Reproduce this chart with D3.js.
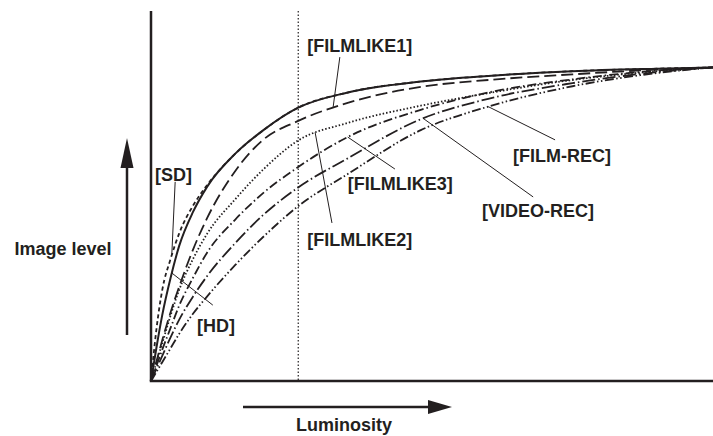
<!DOCTYPE html>
<html>
<head>
<meta charset="utf-8">
<script src="https://cdn.jsdelivr.net/npm/d3@7"></script>
<style>
  body { margin: 0; background: #fff; }
  text { font-family: "Liberation Sans", Arial, sans-serif; font-weight: bold; font-size: 18px; fill: #231f20; }
</style>
</head>
<body>
<div id="chart"></div>
<script>
// luminosity (%) sample points, shared by all curves
var lum = [0, 1, 2, 3.5, 5, 7.5, 10, 15, 20, 26, 35, 48, 60, 75, 90, 100];

// image level (%) for each gamma mode
var hd        = [0, 11, 21, 33, 43, 54, 62, 72.5, 80, 87, 92, 95.5, 97.3, 98.8, 99.6, 100];
var sd        = [0, 17, 29, 39, 47, 56, 62.5, 72.5, 80, 87, 92, 95.5, 97.3, 98.8, 99.6, 100];
var filmlike1 = [0, 6.5, 13, 22, 30, 42, 52, 67, 77, 82.8, 88.7, 93.8, 96, 97.8, 99.3, 100];
var filmlike2 = [0, 6, 12, 21, 29, 39, 47, 58, 67.5, 76.5, 82.3, 87.8, 91.8, 96, 98.8, 100];
var filmlike3 = [0, 5, 10, 17, 24, 33, 41, 51.5, 60, 68, 77.8, 86.5, 92, 96.2, 99, 100];
var videoRec  = [0, 4, 8, 14, 19.5, 27, 33.5, 44, 53, 61.5, 71, 83.5, 90, 95, 98.5, 100];
var filmRec   = [0, 3, 6, 10.5, 15, 21.5, 27, 37, 46, 55.5, 66, 80, 87.5, 94, 98.2, 100];

var seriesNames = ["[HD]", "[SD]", "[FILMLIKE1]", "[FILMLIKE2]", "[FILMLIKE3]", "[VIDEO-REC]", "[FILM-REC]"];
var seriesValues = [hd, sd, filmlike1, filmlike2, filmlike3, videoRec, filmRec];

// label position (left, baseline) and leader line: anchor on the curve at x, free end at (ex, ey)
var labelX   = [8.2, 0.7, 27.8, 27.8, 35.0, 58.9, 64.4];
var labelY   = [15.6, 63.8, 104.9, 43.0, 60.9, 52.3, 69.8];
var anchorX  = [3.7, 3.7, 32.4, 29.2, 35.0, 48.4, 60.0];
var leaderX  = [11.0, 4.3, 33.6, 32.2, 43.4, 68.0, 71.9];
var leaderY  = [24.2, 63.5, 103.3, 50.4, 67.6, 58.7, 76.9];

var markerLum = 26.2; // dotted vertical reference line

var width = 713, height = 436;
var margin = {top: 11, right: 0, bottom: 55, left: 151};

var x = d3.scaleLinear().domain([0, 100]).range([margin.left, width - margin.right]);
var y = d3.scaleLinear().domain([0, 118]).range([height - margin.bottom, margin.top]);

var dashes = [null, "4,3", "12,5", "1.5,2", "9,3,1.5,3", "13,3,1.5,3", "9,2.5,1.5,2.5,1.5,2.5"];
var widths = [2, 1.8, 1.8, 1.8, 1.8, 1.8, 1.8];
var ink = "#231f20";

var svg = d3.select("#chart").append("svg")
    .attr("width", width)
    .attr("height", height);

// dotted reference line
svg.append("line")
    .attr("x1", x(markerLum)).attr("x2", x(markerLum))
    .attr("y1", y.range()[1]).attr("y2", y(0))
    .attr("stroke", ink).attr("stroke-width", 1.2)
    .attr("stroke-dasharray", "1.5,2");

var line = d3.line()
    .x(function(d) { return x(d[0]); })
    .y(function(d) { return y(d[1]); })
    .curve(d3.curveMonotoneX);

var paths = [];
seriesValues.forEach(function(vals, i) {
  var pts = lum.map(function(l, j) { return [l, vals[j]]; });
  var p = svg.append("path")
      .datum(pts)
      .attr("d", line)
      .attr("fill", "none")
      .attr("stroke", ink)
      .attr("stroke-width", widths[i])
      .attr("stroke-dasharray", dashes[i]);
  paths.push(p.node());
});

// find the point of a path at a given pixel x
function pointAtX(node, px) {
  var lo = 0, hi = node.getTotalLength();
  for (var k = 0; k < 40; k++) {
    var mid = (lo + hi) / 2;
    if (node.getPointAtLength(mid).x < px) lo = mid; else hi = mid;
  }
  return node.getPointAtLength(hi);
}

seriesNames.forEach(function(name, i) {
  var a = pointAtX(paths[i], x(anchorX[i]));
  svg.append("line")
      .attr("x1", a.x).attr("y1", a.y)
      .attr("x2", x(leaderX[i])).attr("y2", y(leaderY[i]))
      .attr("stroke", ink).attr("stroke-width", 1);
  svg.append("text")
      .attr("x", x(labelX[i]))
      .attr("y", y(labelY[i]))
      .text(name);
});

// axes (no ticks)
svg.append("line")
    .attr("x1", x(0)).attr("x2", x(0))
    .attr("y1", y.range()[1]).attr("y2", y(0))
    .attr("stroke", ink).attr("stroke-width", 2.5);
svg.append("line")
    .attr("x1", x(0) - 1.25).attr("x2", x(100))
    .attr("y1", y(0)).attr("y2", y(0))
    .attr("stroke", ink).attr("stroke-width", 2.5);

// axis arrows and titles
var ay = 127;
svg.append("line")
    .attr("x1", ay).attr("x2", ay).attr("y1", 335).attr("y2", 165)
    .attr("stroke", ink).attr("stroke-width", 2.5);
svg.append("path")
    .attr("d", "M" + ay + ",138 L" + (ay - 6.5) + ",168 L" + (ay + 6.5) + ",168 Z")
    .attr("fill", ink);

var ax = 407;
svg.append("line")
    .attr("x1", 243).attr("x2", 430).attr("y1", ax).attr("y2", ax)
    .attr("stroke", ink).attr("stroke-width", 2.5);
svg.append("path")
    .attr("d", "M452," + ax + " L428," + (ax - 7) + " L428," + (ax + 7) + " Z")
    .attr("fill", ink);

svg.append("text")
    .attr("x", 63).attr("y", 255)
    .attr("text-anchor", "middle")
    .text("Image level");
svg.append("text")
    .attr("x", 344).attr("y", 431)
    .attr("text-anchor", "middle")
    .text("Luminosity");
</script>
</body>
</html>
